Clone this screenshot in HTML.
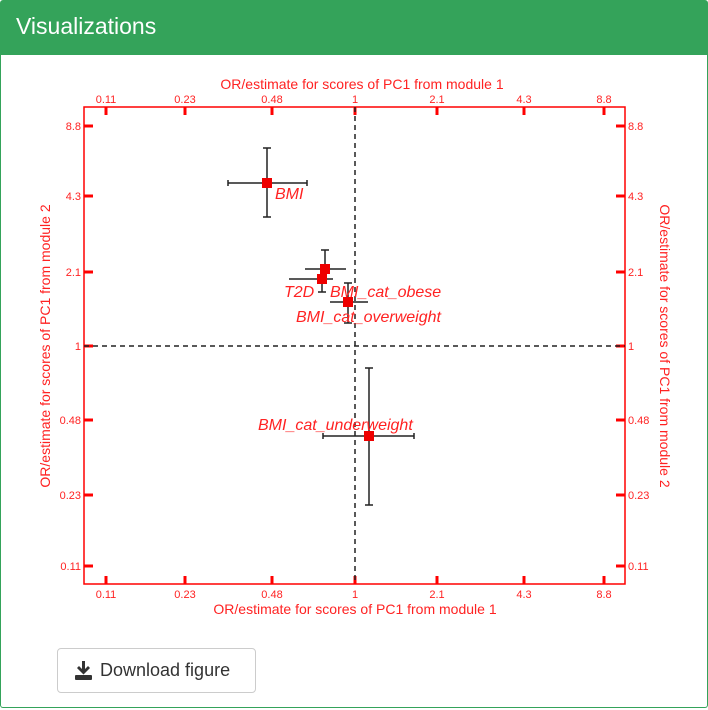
<!DOCTYPE html>
<html><head><style>
body{margin:0;width:708px;height:710px;background:#fff;font-family:"Liberation Sans",sans-serif;overflow:hidden;position:relative}
.hdr{position:absolute;left:0;top:0;width:708px;height:55px;background:#34a35a;color:#fff;font-size:23px;line-height:53px;padding-left:16px;box-sizing:border-box;border-radius:3px 3px 0 0}
.panel{position:absolute;left:0;top:55px;width:706px;height:652px;border:1px solid #34a35a;border-top:none;border-radius:0 0 3px 3px}
.btn{position:absolute;left:57px;top:648px;width:199px;height:45px;border:1px solid #ccc;border-radius:4px;box-sizing:border-box;font-size:18px;color:#333;line-height:43px;padding-left:42px}
</style></head><body>
<div class="hdr">Visualizations</div>
<div class="panel"></div>
<svg style="position:absolute;left:0;top:0" width="708" height="710" font-family="Liberation Sans, sans-serif">
<g fill="#f22" font-size="14" text-anchor="middle">
<text x="362" y="89">OR/estimate for scores of PC1 from module 1</text>
<text x="355" y="614">OR/estimate for scores of PC1 from module 1</text>
<text transform="translate(50,346) rotate(-90)">OR/estimate for scores of PC1 from module 2</text>
<text transform="translate(660,346) rotate(90)">OR/estimate for scores of PC1 from module 2</text>
</g>
<rect x="84" y="107" width="541" height="477" fill="none" stroke="#f00" stroke-width="1.5"/>
<g stroke="#f00" stroke-width="3">
<path d="M106 107v8M185 107v8M272 107v8M355 107v8M437 107v8M524 107v8M604 107v8"/>
<path d="M106 584v-8M185 584v-8M272 584v-8M355 584v-8M437 584v-8M524 584v-8M604 584v-8"/>
<path d="M84 126h9M84 196h9M84 272h9M84 346h9M84 420h9M84 495h9M84 566h9"/>
<path d="M625 126h-9M625 196h-9M625 272h-9M625 346h-9M625 420h-9M625 495h-9M625 566h-9"/>
</g>
<g fill="#f22" font-size="11" text-anchor="middle">
<text x="106" y="103">0.11</text><text x="185" y="103">0.23</text><text x="272" y="103">0.48</text><text x="355" y="103">1</text><text x="437" y="103">2.1</text><text x="524" y="103">4.3</text><text x="604" y="103">8.8</text>
<text x="106" y="598">0.11</text><text x="185" y="598">0.23</text><text x="272" y="598">0.48</text><text x="355" y="598">1</text><text x="437" y="598">2.1</text><text x="524" y="598">4.3</text><text x="604" y="598">8.8</text>
</g>
<g fill="#f22" font-size="11" text-anchor="end">
<text x="81" y="130">8.8</text><text x="81" y="200">4.3</text><text x="81" y="276">2.1</text><text x="81" y="350">1</text><text x="81" y="424">0.48</text><text x="81" y="499">0.23</text><text x="81" y="570">0.11</text>
</g>
<g fill="#f22" font-size="11">
<text x="628" y="130">8.8</text><text x="628" y="200">4.3</text><text x="628" y="276">2.1</text><text x="628" y="350">1</text><text x="628" y="424">0.48</text><text x="628" y="499">0.23</text><text x="628" y="570">0.11</text>
</g>
<g stroke="#222" stroke-width="1.5" stroke-dasharray="5,4">
<path d="M355 107V584M84 346H625"/>
</g>
<g stroke="#222" stroke-width="1.5" fill="none">
<path d="M228 183h79M228 180v6M307 180v6M267 148v69M263 148h8M263 217h8"/>
<path d="M305 269h41M325 250v32M321 250h8"/>
<path d="M289 279h44M322 266v26M318 292h8"/>
<path d="M330 302h38M348 283v40M344 283h8M344 323h8"/>
<path d="M323 436h91M323 433v6M414 433v6M369 368v137M365 368h8M365 505h8"/>
</g>
<g fill="#e00">
<rect x="262" y="178" width="10" height="10"/>
<rect x="320" y="264" width="10" height="10"/>
<rect x="317" y="274" width="10" height="10"/>
<rect x="343" y="297" width="10" height="10"/>
<rect x="364" y="431" width="10" height="10"/>
</g>
<g fill="#f22" font-size="16" font-style="italic">
<text x="275" y="199">BMI</text>
<text x="284" y="297">T2D</text>
<text x="330" y="297">BMI_cat_obese</text>
<text x="296" y="322">BMI_cat_overweight</text>
<text x="258" y="430">BMI_cat_underweight</text>
</g>
<g transform="translate(75,661)" fill="#333">
<path d="M7 0h3v8l3-3 2 2-6.5 6.5L2 7l2-2 3 3z"/>
<rect x="0" y="14" width="17" height="5" rx="1"/>
</g>
</svg>
<div class="btn">Download figure</div>
</body></html>
